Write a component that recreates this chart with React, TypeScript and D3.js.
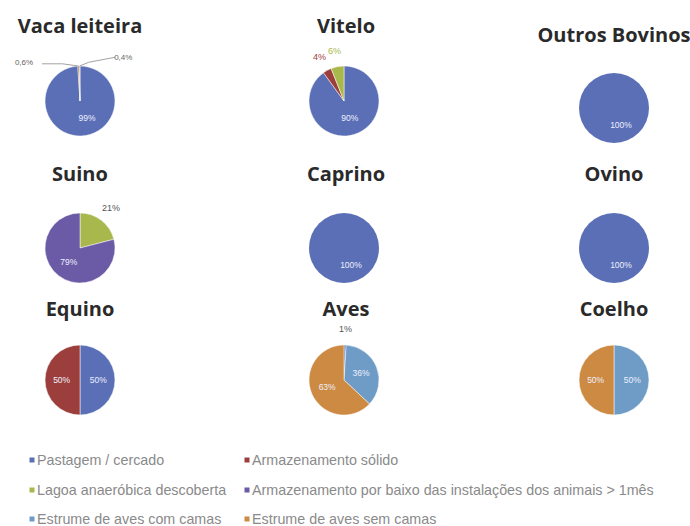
import React from "react";
import { pie, arc, PieArcDatum } from "d3";

const categories = [
  "Pastagem / cercado",
  "Armazenamento sólido",
  "Lagoa anaeróbica descoberta",
  "Armazenamento por baixo das instalações dos animais > 1mês",
  "Estrume de aves com camas",
  "Estrume de aves sem camas",
];
const colors = ["#5a6fb6", "#9c3f3c", "#a9b84c", "#6b5aa6", "#6e9cc6", "#cd8a42"];

const animals = [
  "Vaca leiteira", "Vitelo", "Outros Bovinos",
  "Suino", "Caprino", "Ovino",
  "Equino", "Aves", "Coelho",
];
// one value per category, in % (order as categories)
const vacaLeiteira = [99, 0.6, 0.4, 0, 0, 0];
const vitelo = [90, 4, 6, 0, 0, 0];
const outrosBovinos = [100, 0, 0, 0, 0, 0];
const suino = [0, 0, 21, 79, 0, 0];
const caprino = [100, 0, 0, 0, 0, 0];
const ovino = [100, 0, 0, 0, 0, 0];
const equino = [50, 50, 0, 0, 0, 0];
const aves = [1, 0, 0, 0, 36, 63];
const coelho = [0, 0, 0, 0, 50, 50];
const series = [vacaLeiteira, vitelo, outrosBovinos, suino, caprino, ovino, equino, aves, coelho];

const W = 690;
const H = 526;
const colX = [80, 343, 614];
const rowY = [101, 248, 380];
const titleY = [33, 181, 316];
const titleDx = [0, 3, 0];
const R = 35;

const fmt = (v: number) => String(v).replace(".", ",") + "%";

function Pie({ values, cx, cy }: { values: number[]; cx: number; cy: number }) {
  const items = values.map((v, i) => ({ v, i })).filter((d) => d.v > 0);
  const arcs = pie<{ v: number; i: number }>()
    .sort(null)
    .value((d) => d.v)(items);
  const path = arc<PieArcDatum<{ v: number; i: number }>>().innerRadius(0).outerRadius(R);
  const inside = arc<PieArcDatum<{ v: number; i: number }>>().innerRadius(R * 0.5).outerRadius(R * 0.55);
  const outside = arc<PieArcDatum<{ v: number; i: number }>>().innerRadius(R * 1.45).outerRadius(R * 1.45);
  let tiny = 0;
  return (
    <g transform={`translate(${cx},${cy})`}>
      {arcs.map((a, k) => (
        <path key={k} d={path(a) || ""} fill={colors[a.data.i]} stroke={arcs.length > 1 ? "#ffffff" : "none"} strokeWidth={0.5} />
      ))}
      {arcs.map((a, k) => {
        const label = fmt(a.data.v);
        if (a.data.v >= 30) {
          const [x, y] = a.data.v >= 99 ? [7, 17] : inside.centroid(a);
          return (
            <text key={k} x={x} y={y} textAnchor="middle" dy="0.35em" fontSize={8.5} fill="#eef0ff" fontFamily="Liberation Sans, Arial, sans-serif">
              {label}
            </text>
          );
        }
        if (a.data.v < 1) {
          // tiny slices: labels pulled aside with leader lines
          const side = tiny++ % 2 === 0 ? -1 : 1;
          const m = (a.startAngle + a.endAngle) / 2;
          const px = Math.sin(m) * R;
          const py = -Math.cos(m) * R;
          const lx = side * R * (side < 0 ? 1.6 : 1.15);
          const ly = -R * (side < 0 ? 1.12 : 1.25);
          const pts =
            side < 0
              ? `${px},${py} ${-R * 0.5},${ly + 2} ${lx + 18},${ly + 2}`
              : `${px},${py} ${R * 0.25},${ly + 5} ${lx - 5},${ly}`;
          return (
            <g key={k}>
              <polyline points={pts} fill="none" stroke="#8a8a8a" strokeWidth={0.8} />
              <text x={lx + (side < 0 ? 0 : 3)} y={ly} textAnchor="middle" dy="0.35em" fontSize={8} fill="#666" fontFamily="Liberation Sans, Arial, sans-serif">
                {label}
              </text>
            </g>
          );
        }
        const [x, y] = outside.centroid(a);
        const colored = a.data.v >= 2 && a.data.v < 10;
        return (
          <text key={k} x={x} y={y} textAnchor="middle" dy="0.35em" fontSize={9} fill={colored ? colors[a.data.i] : "#555"} fontFamily="Liberation Sans, Arial, sans-serif">
            {label}
          </text>
        );
      })}
    </g>
  );
}

export default function App() {
  const legendRows = [460, 490, 519];
  const legendCols = [32, 247];
  return (
    <svg width={W} height={H} style={{ position: "absolute", left: 0, top: 0, background: "#fff" }}>
      {animals.map((name, k) => {
        const c = k % 3;
        const r = Math.floor(k / 3);
        return (
          <g key={name}>
            <text x={colX[c] + titleDx[c]} y={titleY[r] + (c === 2 && r === 0 ? 9 : 0)} textAnchor="middle" fontSize={20} fontWeight="bold" fill="#2a2a2a" fontFamily="Open Sans, sans-serif">
              {name}
            </text>
            <Pie values={series[k]} cx={colX[c] + (c === 1 ? 1 : 0)} cy={rowY[r] + (c === 2 && r === 0 ? 7 : 0)} />
          </g>
        );
      })}
      {categories.map((name, i) => {
        const x = legendCols[i % 2];
        const y = legendRows[Math.floor(i / 2)];
        return (
          <g key={name}>
            <rect x={x - 2.5} y={y - 2.5} width={5} height={5} fill={colors[i]} />
            <text x={x + 5} y={y} dy="0.35em" fontSize={14.3} fill="#8a8a8a" fontFamily="Liberation Sans, Arial, sans-serif">
              {name}
            </text>
          </g>
        );
      })}
    </svg>
  );
}
